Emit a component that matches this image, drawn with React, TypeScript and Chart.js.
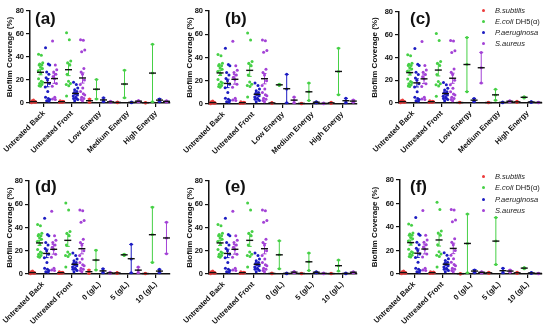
import React, { useEffect, useRef } from 'react';
import { Chart, registerables } from 'chart.js';
Chart.register(...registerables);
Chart.defaults.font.family = 'Arial, "Liberation Sans", sans-serif';

const SERIES = ['B.subtilis', 'E.coli DH5(α)', 'P.aeruginosa', 'S.aureus'];
const COLORS = ['#ec3a3a', '#46d046', '#1c1cc2', '#a342d6'];

const ENERGY_CATS = ['Untreated Back', 'Untreated Front', 'Low Energy', 'Medium Energy', 'High Energy'];
const CONC_CATS = ['Untreated Back', 'Untreated Front', '0 (g/L)', '5 (g/L)', '10 (g/L)'];
const Y_TICKS = [0, 20, 40, 60, 80];

// each group: [B.subtilis, E.coli, P.aeruginosa, S.aureus]
const untreatedBack = [
  [0.3, 0.6, 0.9, 1.2, 1.5, 2, 2.6, 0.8, 1.1],
  [42.5, 41.5, 35, 34, 33, 33, 31, 30, 28, 26, 21, 19, 18, 17, 16, 15, 14.5],
  [48, 34, 33, 27, 25, 22, 20, 17, 14, 10, 5, 4, 3, 2, 1.5],
  [54, 33, 29, 27, 25, 23, 21, 17, 14.5, 5, 3.5, 3],
];
const untreatedFront = [
  [0.4, 0.7, 1, 1.3, 1.6, 2, 0.9, 1.2],
  [61, 55, 36.5, 35, 33, 25, 19, 17, 16, 15, 6],
  [18, 16, 13, 11.5, 10, 9, 8, 7, 6, 5, 4, 4, 3, 2],
  [55, 54.5, 46, 44.5, 30, 27, 25, 20, 16, 13, 10, 8, 7, 5, 4, 3, 2],
];
const low0 = [[0.5, 2, 3.5], [3.5, 12, 20.5], [1, 2.5, 4.5], [0.5, 1, 1.5]];
const medium0 = [[0.2, 0.5, 0.8], [4.5, 16.5, 28.5], [0.3, 0.5, 0.8], [1, 1.5, 2.2]];
const high0 = [[0.1, 0.3, 0.5], [1, 26, 51], [1, 3, 3.5], [0.8, 1.5, 2]];
const low5 = [[0.5, 1, 1.2], [16, 16.5, 17], [1, 13, 25.5], [1, 3, 6]];
const medium5 = [[0.3, 0.5, 0.7], [3, 10.5, 18], [1, 1.5, 2], [0.3, 0.5, 0.8]];
const high5 = [[0.5, 1, 1.5], [8, 28, 48], [1, 2.5, 5], [1.5, 2.5, 3.5]];
const low10 = [[0.2, 0.4, 0.6], [10, 34, 57.5], [1, 2.5, 4], [17.5, 31, 44.5]];
const medium10 = [[0.2, 0.4, 0.6], [2.5, 7, 12], [0.3, 0.5, 0.8], [1, 1.5, 2]];
const high10 = [[0.5, 1, 1.5], [4.5, 5, 5.5], [0.5, 1, 1.2], [0.3, 0.5, 0.7]];

const OFFSETS = [-0.375, -0.125, 0.125, 0.375];
const JITTER = [-0.07, 0.03, 0.08, -0.03, 0.05, -0.05, 0, 0.07, -0.08, 0.01];

type PanelCfg = {
  label: string; cats: string[]; groups: number[][][];
  left: number; top: number; w: number; h: number;
  pl: number; pr: number; pt: number; pb: number;
  labelX: number; labelY: number; legend?: number[];
};

const PANELS: PanelCfg[] = [
  { label: '(a)', cats: ENERGY_CATS, groups: [untreatedBack, untreatedFront, low0, medium0, high0], left: 0, top: 0, w: 180, h: 163, pl: 30, pr: 170, pt: 11, pb: 103, labelX: 35, labelY: 11 },
  { label: '(b)', cats: ENERGY_CATS, groups: [untreatedBack, untreatedFront, low5, medium5, high5], left: 180, top: 0, w: 185, h: 163, pl: 209, pr: 357, pt: 11, pb: 104, labelX: 225, labelY: 11 },
  { label: '(c)', cats: ENERGY_CATS, groups: [untreatedBack, untreatedFront, low10, medium10, high10], left: 365, top: 0, w: 185, h: 163, pl: 399, pr: 542, pt: 12, pb: 103, labelX: 410, labelY: 11, legend: [10, 21, 32, 43] },
  { label: '(d)', cats: CONC_CATS, groups: [untreatedBack, untreatedFront, low0, low5, low10], left: 0, top: 163, w: 180, h: 163, pl: 29, pr: 170, pt: 181, pb: 274, labelX: 35, labelY: 179 },
  { label: '(e)', cats: CONC_CATS, groups: [untreatedBack, untreatedFront, medium0, medium5, medium10], left: 180, top: 163, w: 185, h: 163, pl: 209, pr: 357, pt: 181, pb: 274, labelX: 225, labelY: 179 },
  { label: '(f)', cats: CONC_CATS, groups: [untreatedBack, untreatedFront, high0, high5, high10], left: 365, top: 163, w: 185, h: 163, pl: 400, pr: 542, pt: 180, pb: 274, labelX: 410, labelY: 179, legend: [176, 187.5, 199, 210.5] },
];

function stats(vals: number[]) {
  const n = vals.length;
  const mean = vals.reduce((a, b) => a + b, 0) / n;
  const sd = Math.sqrt(vals.reduce((a, b) => a + (b - mean) ** 2, 0) / (n - 1));
  return { mean, err: n > 3 ? sd / Math.sqrt(n) : sd };
}

const errorBarPlugin = {
  id: 'errbars',
  afterDatasetsDraw(chart: any, _args: any, opts: any) {
    const groups: number[][][] = opts.groups;
    const xs = chart.scales.x, ys = chart.scales.y, ctx = chart.ctx;
    ctx.save();
    groups.forEach((g, c) => g.forEach((vals, s) => {
      const { mean, err } = stats(vals);
      const px = xs.getPixelForValue(c + OFFSETS[s]);
      const yt = ys.getPixelForValue(mean + err);
      const yb = ys.getPixelForValue(mean - err);
      const ym = ys.getPixelForValue(mean);
      ctx.strokeStyle = COLORS[s];
      ctx.lineWidth = 1;
      ctx.beginPath();
      ctx.moveTo(px, yt); ctx.lineTo(px, yb);
      ctx.moveTo(px - 2, yt); ctx.lineTo(px + 2, yt);
      ctx.moveTo(px - 2, yb); ctx.lineTo(px + 2, yb);
      ctx.stroke();
      ctx.strokeStyle = '#111';
      ctx.lineWidth = 1.4;
      ctx.beginPath();
      ctx.moveTo(px - 3.5, ym); ctx.lineTo(px + 3.5, ym);
      ctx.stroke();
    }));
    ctx.restore();
  },
};

const panelLabelPlugin = {
  id: 'panelLabel',
  afterDraw(chart: any, _args: any, opts: any) {
    const ctx = chart.ctx;
    ctx.save();
    ctx.font = 'bold 17px Arial, "Liberation Sans", sans-serif';
    ctx.fillStyle = '#111';
    ctx.textBaseline = 'top';
    ctx.textAlign = 'left';
    ctx.fillText(opts.text, opts.x, opts.y);
    ctx.restore();
  },
};

function buildDatasets(groups: number[][][]) {
  return SERIES.map((name, s) => ({
    label: name,
    data: groups.flatMap((g, c) => {
      const vals = g[s];
      return vals.map((v, i) => ({ x: c + OFFSETS[s] + (vals.length > 3 ? JITTER[i % JITTER.length] : 0), y: v }));
    }),
    backgroundColor: COLORS[s],
    borderColor: COLORS[s],
    pointRadius: 1.5,
    pointBorderWidth: 0,
    clip: false as any,
  }));
}

function Panel({ cfg }: { cfg: PanelCfg }) {
  const ref = useRef<HTMLCanvasElement>(null);
  useEffect(() => {
    const tickFont = { size: 7.5, weight: 'bold' as const };
    const chart = new Chart(ref.current!, {
      type: 'scatter',
      data: { datasets: buildDatasets(cfg.groups) as any },
      options: {
        animation: false,
        responsive: false,
        maintainAspectRatio: false,
        events: [],
        layout: { padding: { top: cfg.pt - cfg.top, right: cfg.left + cfg.w - cfg.pr, left: 0, bottom: 0 } },
        plugins: {
          legend: { display: false },
          tooltip: { enabled: false },
          errbars: { groups: cfg.groups },
          panelLabel: { text: cfg.label, x: cfg.labelX - cfg.left, y: cfg.labelY - cfg.top },
        } as any,
        scales: {
          x: {
            type: 'linear', min: -0.5, max: 4.5,
            afterBuildTicks: (s: any) => { s.ticks = cfg.cats.map((_, i) => ({ value: i })); },
            afterFit: (s: any) => { s.height = cfg.top + cfg.h - cfg.pb; s.paddingLeft = 0; s.paddingRight = 0; },
            ticks: {
              autoSkip: false, minRotation: 45, maxRotation: 45, padding: 2,
              callback: (v: any) => cfg.cats[v] ?? '',
              font: tickFont, color: '#111',
            },
            grid: { drawOnChartArea: false, color: '#111', lineWidth: 1.2, tickLength: 4 },
            border: { color: '#111', width: 1.5 },
          },
          y: {
            min: 0, max: 80,
            afterBuildTicks: (s: any) => { s.ticks = Y_TICKS.map(v => ({ value: v })); },
            afterFit: (s: any) => { s.width = cfg.pl - cfg.left; s.paddingTop = 0; s.paddingBottom = 0; },
            ticks: { font: tickFont, color: '#111', padding: 2 },
            title: { display: true, text: 'Biofilm Coverage (%)', font: { size: 8, weight: 'bold' }, color: '#111', padding: { top: 5, bottom: 2 } },
            grid: { drawOnChartArea: false, color: '#111', lineWidth: 1.2, tickLength: 4 },
            border: { color: '#111', width: 1.5 },
          },
        } as any,
      },
      plugins: [errorBarPlugin, panelLabelPlugin],
    });
    return () => chart.destroy();
  }, []);
  return (
    <div style={{ position: 'absolute', left: cfg.left, top: cfg.top, width: cfg.w, height: cfg.h }}>
      <canvas ref={ref} width={cfg.w} height={cfg.h} style={{ width: cfg.w, height: cfg.h, display: 'block' }} />
    </div>
  );
}

function Legend({ rows }: { rows: number[] }) {
  return (
    <>
      {SERIES.map((name, i) => {
        const parts = name.split(' ');
        return (
          <div key={name} style={{ position: 'absolute', left: 482, top: rows[i] - 6, height: 12, display: 'flex', alignItems: 'center', fontFamily: 'Arial, "Liberation Sans", sans-serif', fontSize: 7.5, color: '#222', whiteSpace: 'nowrap' }}>
            <span style={{ display: 'inline-block', width: 3, height: 3, borderRadius: 2, background: COLORS[i], marginRight: 10 }} />
            <span><i>{parts[0]}</i>{parts[1] ? ' ' + parts[1] : ''}</span>
          </div>
        );
      })}
    </>
  );
}

export default function App() {
  return (
    <div style={{ position: 'absolute', left: 0, top: 0, width: 550, height: 326, background: '#fff', overflow: 'hidden' }}>
      {PANELS.map(p => <Panel key={p.label} cfg={p} />)}
      {PANELS.filter(p => p.legend).map(p => <Legend key={'lg' + p.label} rows={p.legend!} />)}
    </div>
  );
}
